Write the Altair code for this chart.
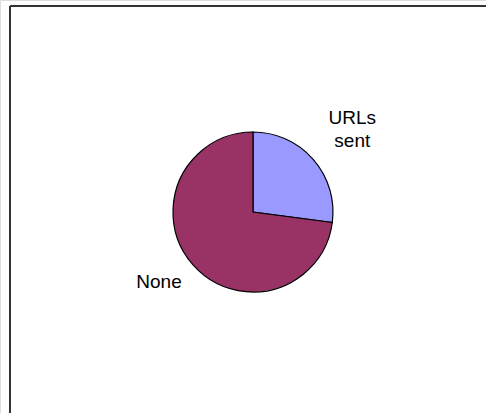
import altair as alt
import pandas as pd

categories = ["URLs sent", "None"]
values = [27.1, 72.9]
labels = ["URLs\nsent", "None"]
colors = ["#9999FF", "#993366"]

df = pd.DataFrame({
    "category": categories,
    "value": values,
    "label": labels,
    "idx": list(range(len(categories))),
})

cx, cy = 253, 212

base = alt.Chart(df).encode(
    theta=alt.Theta("value:Q", stack=True),
    order=alt.Order("idx:O"),
)

pie = base.mark_arc(radius=80, stroke="black", strokeWidth=1.2).encode(
    color=alt.Color("category:N", scale=alt.Scale(domain=categories, range=colors), legend=None),
    x=alt.value(cx),
    y=alt.value(cy),
)

text_style = dict(font="Liberation Sans", fontSize=19, color="black",
                  lineBreak="\n", align="center", baseline="middle", lineHeight=23)

text_urls = base.mark_text(radius=128, dx=3, dy=-10, **text_style).encode(
    text="label:N",
    opacity=alt.condition(alt.datum.category == "URLs sent", alt.value(1), alt.value(0)),
    x=alt.value(cx),
    y=alt.value(cy),
)
text_none = base.mark_text(radius=117, dx=-6, dy=-7, **text_style).encode(
    text="label:N",
    opacity=alt.condition(alt.datum.category == "None", alt.value(1), alt.value(0)),
    x=alt.value(cx),
    y=alt.value(cy),
)

frame_top = alt.Chart(df).mark_rule(color="#333333", strokeWidth=2).encode(
    x=alt.value(10), x2=alt.value(495), y=alt.value(6)
)
frame_left = alt.Chart(df).mark_rule(color="#333333", strokeWidth=2).encode(
    x=alt.value(10), y=alt.value(6), y2=alt.value(430)
)

chart = alt.layer(frame_top, frame_left, pie, text_urls, text_none).properties(
    width=486, height=413,
    padding=0,
    autosize=alt.AutoSizeParams(type="none"),
).configure_view(stroke=None).configure(background="white")

chart.save("out.html", embed_options={"renderer": "svg", "actions": False})
